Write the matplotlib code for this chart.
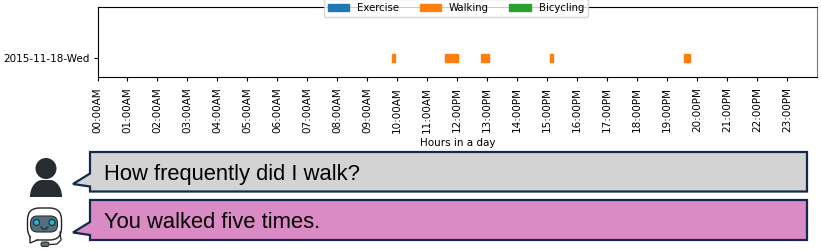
"""
Walking activity timeline for one day, with the question and answer bubbles below it.
"""
import matplotlib

matplotlib.use("Agg")
import matplotlib.pyplot as plt
from matplotlib.patches import Circle, FancyBboxPatch, Patch, PathPatch, Polygon
from matplotlib.path import Path

DAY_LABEL = "2015-11-18-Wed"
LEGEND_LABELS = ["Exercise", "Walking", "Bicycling"]
LEGEND_COLORS = ["#1f77b4", "#ff7f0e", "#2ca02c"]

# walking periods: start hour, duration in hours
WALK_STARTS = [9.82, 11.6, 12.8, 15.09, 19.58]
WALK_LENGTHS = [0.09, 0.42, 0.25, 0.09, 0.18]

HOURS = list(range(24))
HOUR_LABELS = [
    "00:00AM", "01:00AM", "02:00AM", "03:00AM", "04:00AM", "05:00AM",
    "06:00AM", "07:00AM", "08:00AM", "09:00AM", "10:00AM", "11:00AM",
    "12:00PM", "13:00PM", "14:00PM", "15:00PM", "16:00PM", "17:00PM",
    "18:00PM", "19:00PM", "20:00PM", "21:00PM", "22:00PM", "23:00PM",
]

QUESTION = "How frequently did I walk?"
ANSWER = "You walked five times."

W, H = 822, 250
NAVY = "#14284b"


def bubble(ax, top, bottom, color, text):
    left, right = 90, 807
    points = [
        (left, top), (right, top), (right, bottom), (left, bottom),
        (left, bottom - 5), (73, bottom - 7.5), (left, bottom - 18),
    ]
    ax.add_patch(Polygon(points, closed=True, fc=color, ec=NAVY, lw=1.6))
    ax.text(104, (top + bottom) / 2 + 2.5, text, fontsize=15.87, color="black",
            family="Liberation Sans", va="center", ha="left")


def draw_person(ax):
    dark = "#272c30"
    ax.add_patch(Circle((46, 168.5), 10.5, fc=dark, ec="none"))
    verts = [(30, 197), (30, 187), (36, 180), (42, 180), (50, 180),
             (56, 180), (62, 187), (62, 197), (30, 197)]
    codes = [Path.MOVETO, Path.CURVE4, Path.CURVE4, Path.CURVE4, Path.LINETO,
             Path.CURVE4, Path.CURVE4, Path.CURVE4, Path.CLOSEPOLY]
    ax.add_patch(PathPatch(Path(verts, codes), fc=dark, ec="none"))


def draw_robot(ax):
    ink = "#222222"
    ax.plot([60, 61, 57, 50], [232, 240, 244, 244.5], color=ink, lw=0.9)
    ax.add_patch(Polygon([(30, 233), (30, 243), (42, 238)], fc="white", ec=ink, lw=1.0))
    ax.add_patch(FancyBboxPatch((27.5, 208), 34, 32, boxstyle="round,pad=0,rounding_size=12",
                                fc="white", ec=ink, lw=1.0))
    ax.add_patch(Polygon([(31, 236), (31, 241.5), (40, 238)], fc="white", ec="none"))
    ax.add_patch(FancyBboxPatch((30.5, 216), 27, 16, boxstyle="round,pad=0,rounding_size=7",
                                fc="#546e7a", ec="#263238", lw=0.8))
    ax.add_patch(Circle((36.5, 222.5), 3, fc="#29b6d3", ec="#1c2b33", lw=0.8))
    ax.add_patch(Circle((52, 222.5), 3, fc="#29b6d3", ec="#1c2b33", lw=0.8))
    ax.plot([41, 43, 46, 48], [227, 229, 229, 227], color="#1c2b33", lw=0.9)
    ax.add_patch(FancyBboxPatch((41, 242), 8, 4.5, boxstyle="round,pad=0,rounding_size=2",
                                fc="#546e7a", ec=ink, lw=0.7))


def main() -> None:
    plt.rcParams["font.family"] = "DejaVu Sans"
    fig = plt.figure(figsize=(W / 100, H / 100), dpi=100)

    # Timeline
    ax = fig.add_axes([97.5 / W, 1 - 77 / H, 719.5 / W, 70 / H])
    ax.broken_barh(list(zip(WALK_STARTS, WALK_LENGTHS)), (-0.2, 0.4), color=LEGEND_COLORS[1])
    ax.set_xlim(0, 24)
    ax.set_ylim(-0.95, 2.55)
    ax.set_yticks([0])
    ax.set_yticklabels([DAY_LABEL], fontsize=7.45)
    ax.set_xticks(HOURS)
    ax.set_xticklabels(HOUR_LABELS, rotation=90, fontsize=7.45)
    ax.set_xlabel("Hours in a day", fontsize=7.45, labelpad=3.5)
    ax.tick_params(length=3, width=0.8)
    ax.tick_params(axis="x", pad=4.4)
    ax.tick_params(axis="y", pad=3)
    ax.spines["right"].set_color("#777777")

    handles = [Patch(color=c, label=l) for c, l in zip(LEGEND_COLORS, LEGEND_LABELS)]
    ax.legend(handles=handles, ncol=3, fontsize=7.3, loc="center",
              bbox_to_anchor=((456 - 97.5) / 719.5, 1 - 1 / 70), frameon=True,
              borderpad=0.35, handlelength=2.1, handleheight=0.8,
              columnspacing=2.0, handletextpad=0.8)

    # Speech bubbles and icons, laid out in pixels
    over = fig.add_axes([0, 0, 1, 1])
    over.set_xlim(0, W)
    over.set_ylim(H, 0)
    over.axis("off")
    over.patch.set_alpha(0)
    bubble(over, 152, 191.5, "#d3d3d3", QUESTION)
    bubble(over, 200, 240, "#da8ac4", ANSWER)
    draw_person(over)
    draw_robot(over)

    fig.savefig("out.png", dpi=100)
    plt.close(fig)


if __name__ == "__main__":
    main()
